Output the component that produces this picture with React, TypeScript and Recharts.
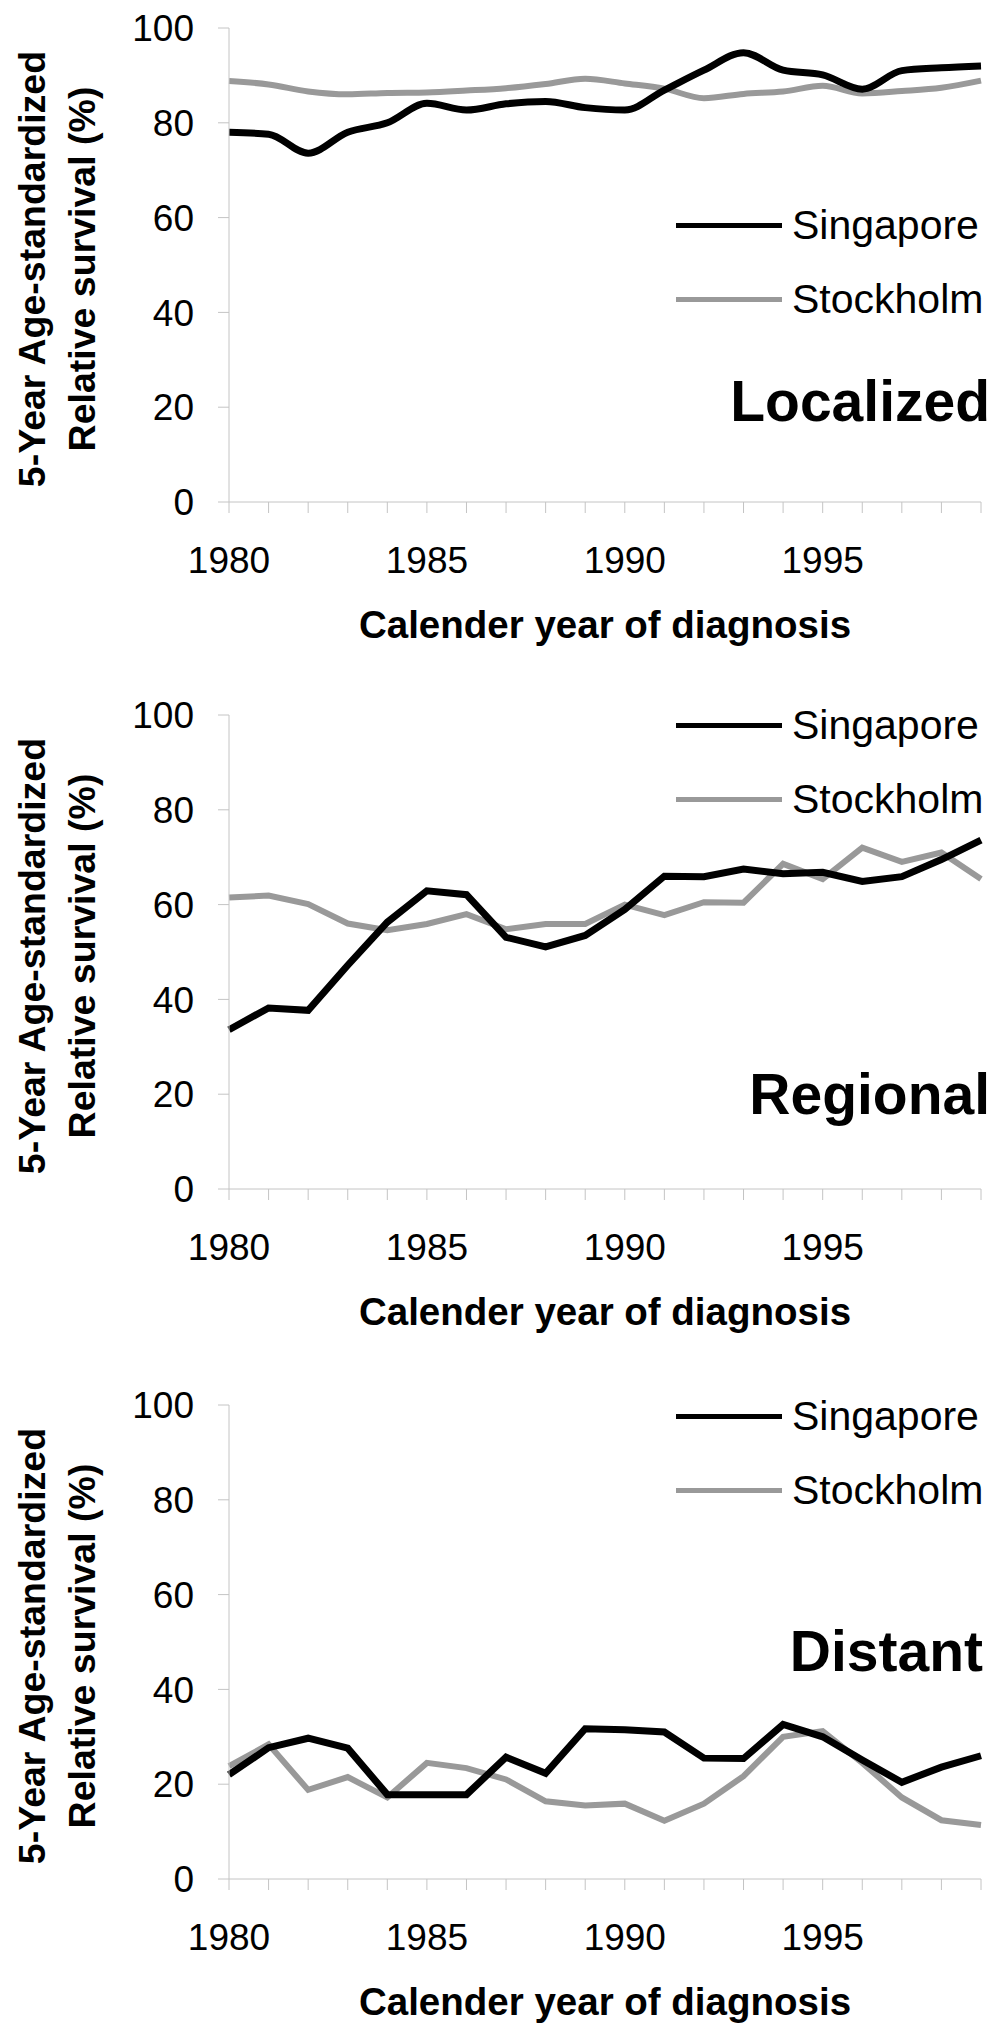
import { LineChart, Line, XAxis, YAxis, Legend } from 'recharts';

const years = [1980, 1981, 1982, 1983, 1984, 1985, 1986, 1987, 1988, 1989, 1990, 1991, 1992, 1993, 1994, 1995, 1996, 1997, 1998, 1999];
const labelledYears = [1980, 1985, 1990, 1995];
const yTicks = [0, 20, 40, 60, 80, 100];

// 5-year age-standardized relative survival (%)
const localizedSingapore = [78, 77.6, 73.6, 78, 80, 84.1, 82.7, 84, 84.5, 83.2, 82.7, 86.9, 91.1, 94.8, 91.1, 90.1, 87.1, 91, 91.6, 92];
const localizedStockholm = [88.8, 88.1, 86.6, 86, 86.3, 86.4, 86.8, 87.3, 88.2, 89.3, 88.3, 87.2, 85.2, 86.1, 86.6, 87.8, 86.2, 86.7, 87.4, 88.9];
const regionalSingapore = [33.6, 38.2, 37.7, 47.2, 56.3, 62.9, 62.1, 53.1, 51.1, 53.5, 59, 66, 65.9, 67.5, 66.5, 66.8, 64.9, 65.9, 69.5, 73.6];
const regionalStockholm = [61.5, 61.9, 60.1, 56, 54.6, 55.9, 58, 54.8, 55.9, 55.9, 60, 57.8, 60.5, 60.4, 68.6, 65.4, 72, 69, 71, 65.4];
const distantSingapore = [22, 27.7, 29.7, 27.6, 17.8, 17.8, 17.8, 25.7, 22.3, 31.7, 31.5, 31, 25.5, 25.4, 32.6, 30, 25.1, 20.4, 23.6, 26];
const distantStockholm = [23.8, 28.4, 18.8, 21.5, 17.2, 24.5, 23.4, 21, 16.4, 15.5, 15.9, 12.3, 15.9, 21.7, 30, 31.2, 24.5, 17.2, 12.4, 11.4];

const FONT = '"Liberation Sans", Arial, Helvetica, sans-serif';
const AXIS_GRAY = '#c4c4c4';
const SINGAPORE_COLOR = '#000000';
const STOCKHOLM_COLOR = '#999999';

const legendItems = [
    { name: 'Singapore', color: SINGAPORE_COLOR },
    { name: 'Stockholm', color: STOCKHOLM_COLOR }
];

const panels = [
    { stage: 'Localized', singapore: localizedSingapore, stockholm: localizedStockholm, top: 0, legendY: 225, stageY: 401, stageRight: 14, smooth: true },
    { stage: 'Regional', singapore: regionalSingapore, stockholm: regionalStockholm, top: 687, legendY: 38, stageY: 407, stageRight: 14, smooth: false },
    { stage: 'Distant', singapore: distantSingapore, stockholm: distantStockholm, top: 1377, legendY: 39, stageY: 274, stageRight: 21, smooth: false }
];

const CHART_W = 1004;
const CHART_H = 652;
const PLOT_TOP = 28;
const PLOT_BOTTOM = 502;
const PLOT_LEFT = 229;
const PLOT_RIGHT = 981;

function YearTick(props: any) {
    const { x, y, payload } = props;
    if (!labelledYears.includes(payload.value)) return <g />;
    return (
        <text x={x} y={y} dy="0.71em" textAnchor="middle" fontFamily={FONT} fontSize={37} fill="#000">
            {payload.value}
        </text>
    );
}

function LegendBox() {
    return (
        <div style={{ fontFamily: FONT }}>
            {legendItems.map((item) => (
                <div key={item.name} style={{ display: 'flex', alignItems: 'center', height: 74 }}>
                    <div style={{ width: 106, height: 5, background: item.color, marginRight: 10 }} />
                    <span style={{ fontSize: 41, lineHeight: '41px', color: '#000' }}>{item.name}</span>
                </div>
            ))}
        </div>
    );
}

function Panel({ cfg }: { cfg: (typeof panels)[number] }) {
    const data = years.map((year, i) => ({
        year,
        Singapore: cfg.singapore[i],
        Stockholm: cfg.stockholm[i]
    }));
    const curve = cfg.smooth ? 'monotone' : 'linear';
    const plotMidY = (PLOT_TOP + PLOT_BOTTOM) / 2;

    return (
        <div style={{ position: 'absolute', left: 0, top: cfg.top, width: CHART_W, height: CHART_H }}>
            <LineChart width={CHART_W} height={CHART_H} data={data} margin={{ top: PLOT_TOP, right: CHART_W - PLOT_RIGHT, bottom: 0, left: 0 }}>
                <XAxis
                    dataKey="year"
                    type="number"
                    domain={[1980, 1999]}
                    ticks={years}
                    interval={0}
                    height={CHART_H - PLOT_BOTTOM}
                    tickSize={11}
                    tickMargin={34}
                    axisLine={{ stroke: AXIS_GRAY, strokeWidth: 1 }}
                    tickLine={{ stroke: AXIS_GRAY, strokeWidth: 1 }}
                    tick={<YearTick />}
                />
                <YAxis
                    type="number"
                    domain={[0, 100]}
                    ticks={yTicks}
                    width={PLOT_LEFT}
                    tickSize={11}
                    tickMargin={24}
                    axisLine={{ stroke: AXIS_GRAY, strokeWidth: 1 }}
                    tickLine={{ stroke: AXIS_GRAY, strokeWidth: 1 }}
                    tick={{ fontFamily: FONT, fontSize: 37, fill: '#000' }}
                />
                <Legend
                    layout="horizontal"
                    align="center"
                    verticalAlign="middle"
                    wrapperStyle={{ top: cfg.legendY - 37, left: 676, width: 328, bottom: 'auto', right: 'auto' }}
                    content={() => <LegendBox />}
                />
                <Line type={curve} dataKey="Stockholm" stroke={STOCKHOLM_COLOR} strokeWidth={6} dot={false} isAnimationActive={false} />
                <Line type={curve} dataKey="Singapore" stroke={SINGAPORE_COLOR} strokeWidth={7} dot={false} isAnimationActive={false} />
            </LineChart>

            {/* y-axis title, two rotated lines */}
            <div
                style={{
                    position: 'absolute',
                    left: 57 - 260,
                    top: plotMidY + 4 - 50,
                    width: 520,
                    height: 100,
                    transform: 'rotate(-90deg)',
                    textAlign: 'center',
                    fontFamily: FONT,
                    fontWeight: 'bold',
                    fontSize: 37.5,
                    lineHeight: '50px',
                    whiteSpace: 'nowrap',
                    color: '#000'
                }}
            >
                <div>5-Year Age-standardized</div>
                <div>Relative survival (%)</div>
            </div>

            {/* x-axis title */}
            <div
                style={{
                    position: 'absolute',
                    left: (PLOT_LEFT + PLOT_RIGHT) / 2,
                    top: PLOT_BOTTOM + 123 - 19,
                    transform: 'translateX(-50%)',
                    fontFamily: FONT,
                    fontWeight: 'bold',
                    fontSize: 38.5,
                    lineHeight: '38px',
                    whiteSpace: 'nowrap',
                    color: '#000'
                }}
            >
                Calender year of diagnosis
            </div>

            {/* stage label */}
            <div
                style={{
                    position: 'absolute',
                    right: cfg.stageRight,
                    top: cfg.stageY - 28,
                    fontFamily: FONT,
                    fontWeight: 'bold',
                    fontSize: 57,
                    lineHeight: '57px',
                    whiteSpace: 'nowrap',
                    color: '#000'
                }}
            >
                {cfg.stage}
            </div>
        </div>
    );
}

export default function App() {
    return (
        <div style={{ position: 'absolute', left: 0, top: 0, width: 1004, height: 2038, background: '#fff', overflow: 'hidden' }}>
            {panels.map((p) => (
                <Panel key={p.stage} cfg={p} />
            ))}
        </div>
    );
}
